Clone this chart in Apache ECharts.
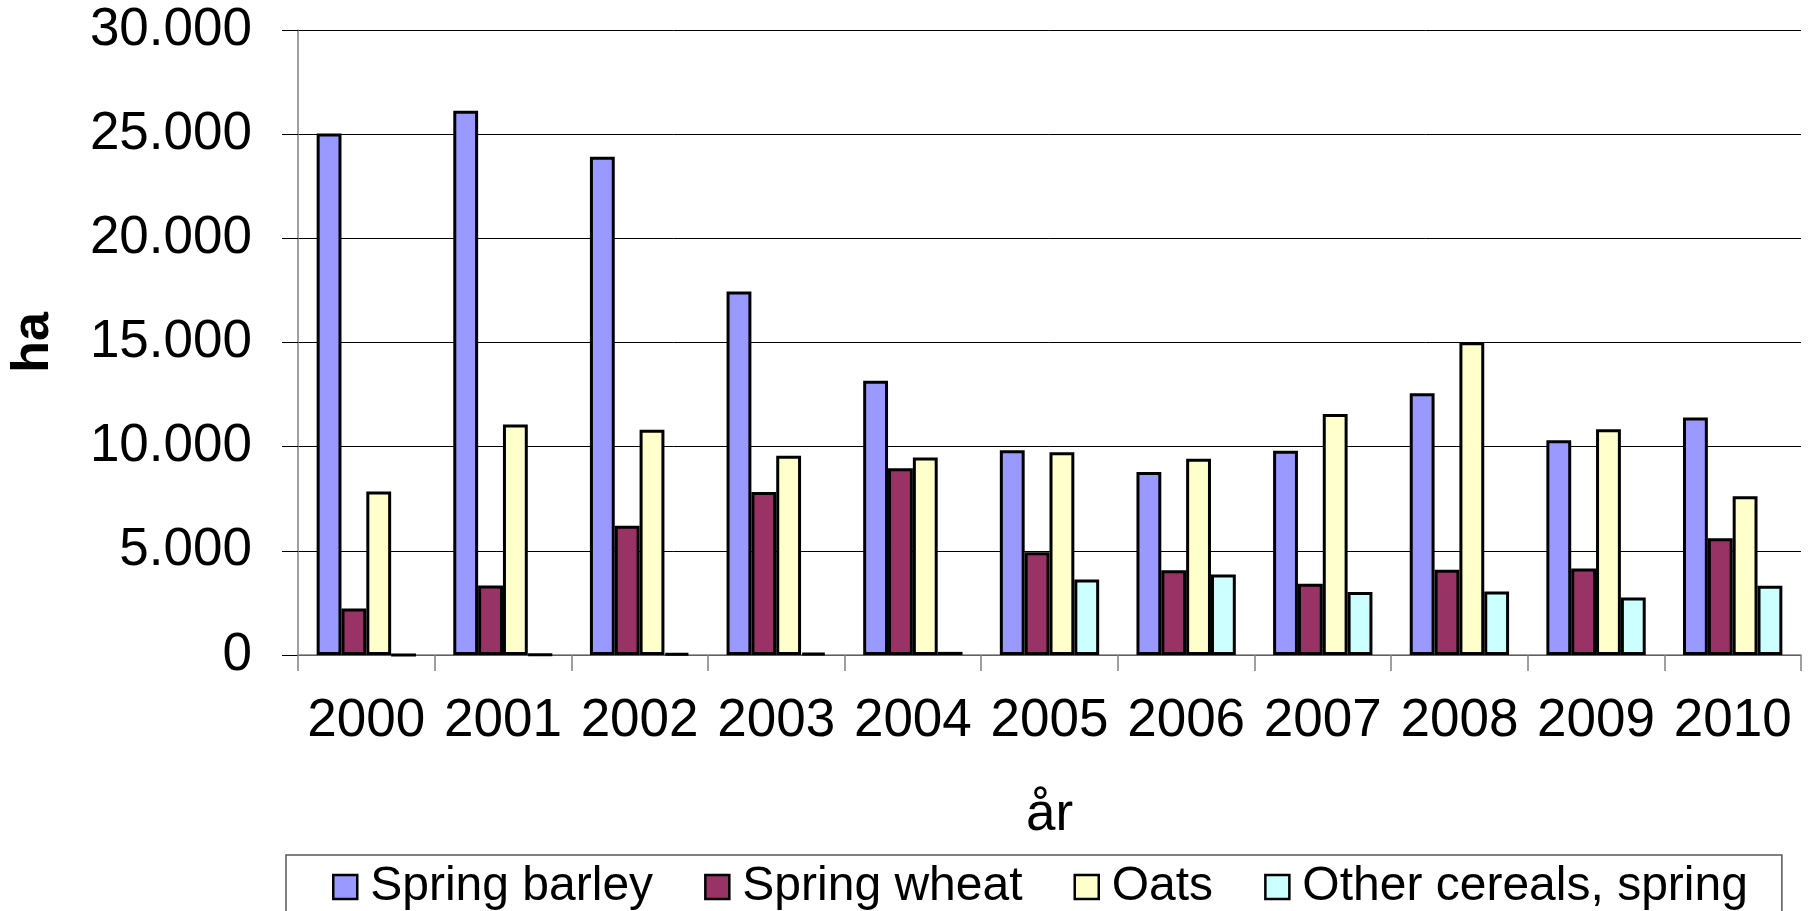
<!DOCTYPE html>
<html>
<head>
<meta charset="utf-8">
<script src="https://cdn.jsdelivr.net/npm/echarts@6/dist/echarts.min.js"></script>
<style>html,body{margin:0;padding:0;background:#fff;}#c{width:1814px;height:911px;}</style>
</head>
<body>
<div id="c"></div>
<script>
const years = ['2000','2001','2002','2003','2004','2005','2006','2007','2008','2009','2010'];
const springBarley = [25030, 26120, 23920, 17450, 13170, 9830, 8790, 9810, 12570, 10310, 11400];
const springWheat  = [2230, 3340, 6200, 7830, 8960, 4930, 4070, 3420, 4090, 4150, 5600];
const oats         = [7850, 11060, 10810, 9560, 9480, 9730, 9420, 11570, 15010, 10840, 7620];
const otherCereals = [0, 30, 80, 100, 150, 3630, 3860, 3030, 3050, 2760, 3320];
const seriesNames = ['Spring barley', 'Spring wheat', 'Oats', 'Other cereals, spring'];
const seriesColors = ['#9999FF', '#993366', '#FFFFCC', '#CCFFFF'];
const seriesData = [springBarley, springWheat, oats, otherCereals];

const font = '"Liberation Sans", Arial, sans-serif';
const chart = echarts.init(document.getElementById('c'), null, {renderer: 'canvas'});
chart.setOption({
  animation: false,
  backgroundColor: '#ffffff',
  grid: {left: 298, right: 13, top: 30, bottom: 256, containLabel: false, outerBoundsMode: 'none'},
  legend: {
    data: seriesNames,
    top: 855,
    left: 286,
    itemWidth: 24,
    itemHeight: 24,
    itemGap: 51,
    padding: [8, 34, 30, 46],
    borderColor: '#555',
    borderWidth: 1.5,
    icon: 'rect',
    itemStyle: {borderColor: '#000', borderWidth: 2.5},
    textStyle: {fontFamily: font, fontSize: 48, color: '#000', padding: [0, 0, 0, 8]}
  },
  xAxis: {
    type: 'category',
    data: years,
    name: 'år',
    nameLocation: 'middle',
    nameGap: 134,
    nameTextStyle: {fontFamily: font, fontSize: 53, color: '#000'},
    axisLine: {lineStyle: {color: '#808080', width: 1.5}},
    axisTick: {show: true, length: 16, lineStyle: {color: '#808080', width: 1.5}},
    axisLabel: {fontFamily: font, fontSize: 53, color: '#000', margin: 40, interval: 0},
    splitLine: {show: false}
  },
  yAxis: {
    type: 'value',
    min: 0, max: 30000, interval: 5000,
    name: 'ha',
    nameLocation: 'middle',
    nameGap: 238,
    nameTextStyle: {fontFamily: font, fontSize: 52, fontWeight: 'bold', color: '#000'},
    axisLine: {show: true, lineStyle: {color: '#808080', width: 1.5}},
    axisTick: {show: true, length: 16, lineStyle: {color: '#000', width: 1}},
    axisLabel: {
      fontFamily: font, fontSize: 53, color: '#000', margin: 46,
      formatter: v => String(v).replace(/\B(?=(\d{3})+(?!\d))/g, '.')
    },
    splitLine: {show: true, lineStyle: {color: '#000', width: 1}}
  },
  series: seriesData.map((d, i) => ({
    name: seriesNames[i],
    type: 'bar',
    data: d,
    barGap: '0%',
    barCategoryGap: '27.3%',
    itemStyle: {color: seriesColors[i], borderColor: '#000', borderWidth: 3}
  }))
});
</script>
</body>
</html>
